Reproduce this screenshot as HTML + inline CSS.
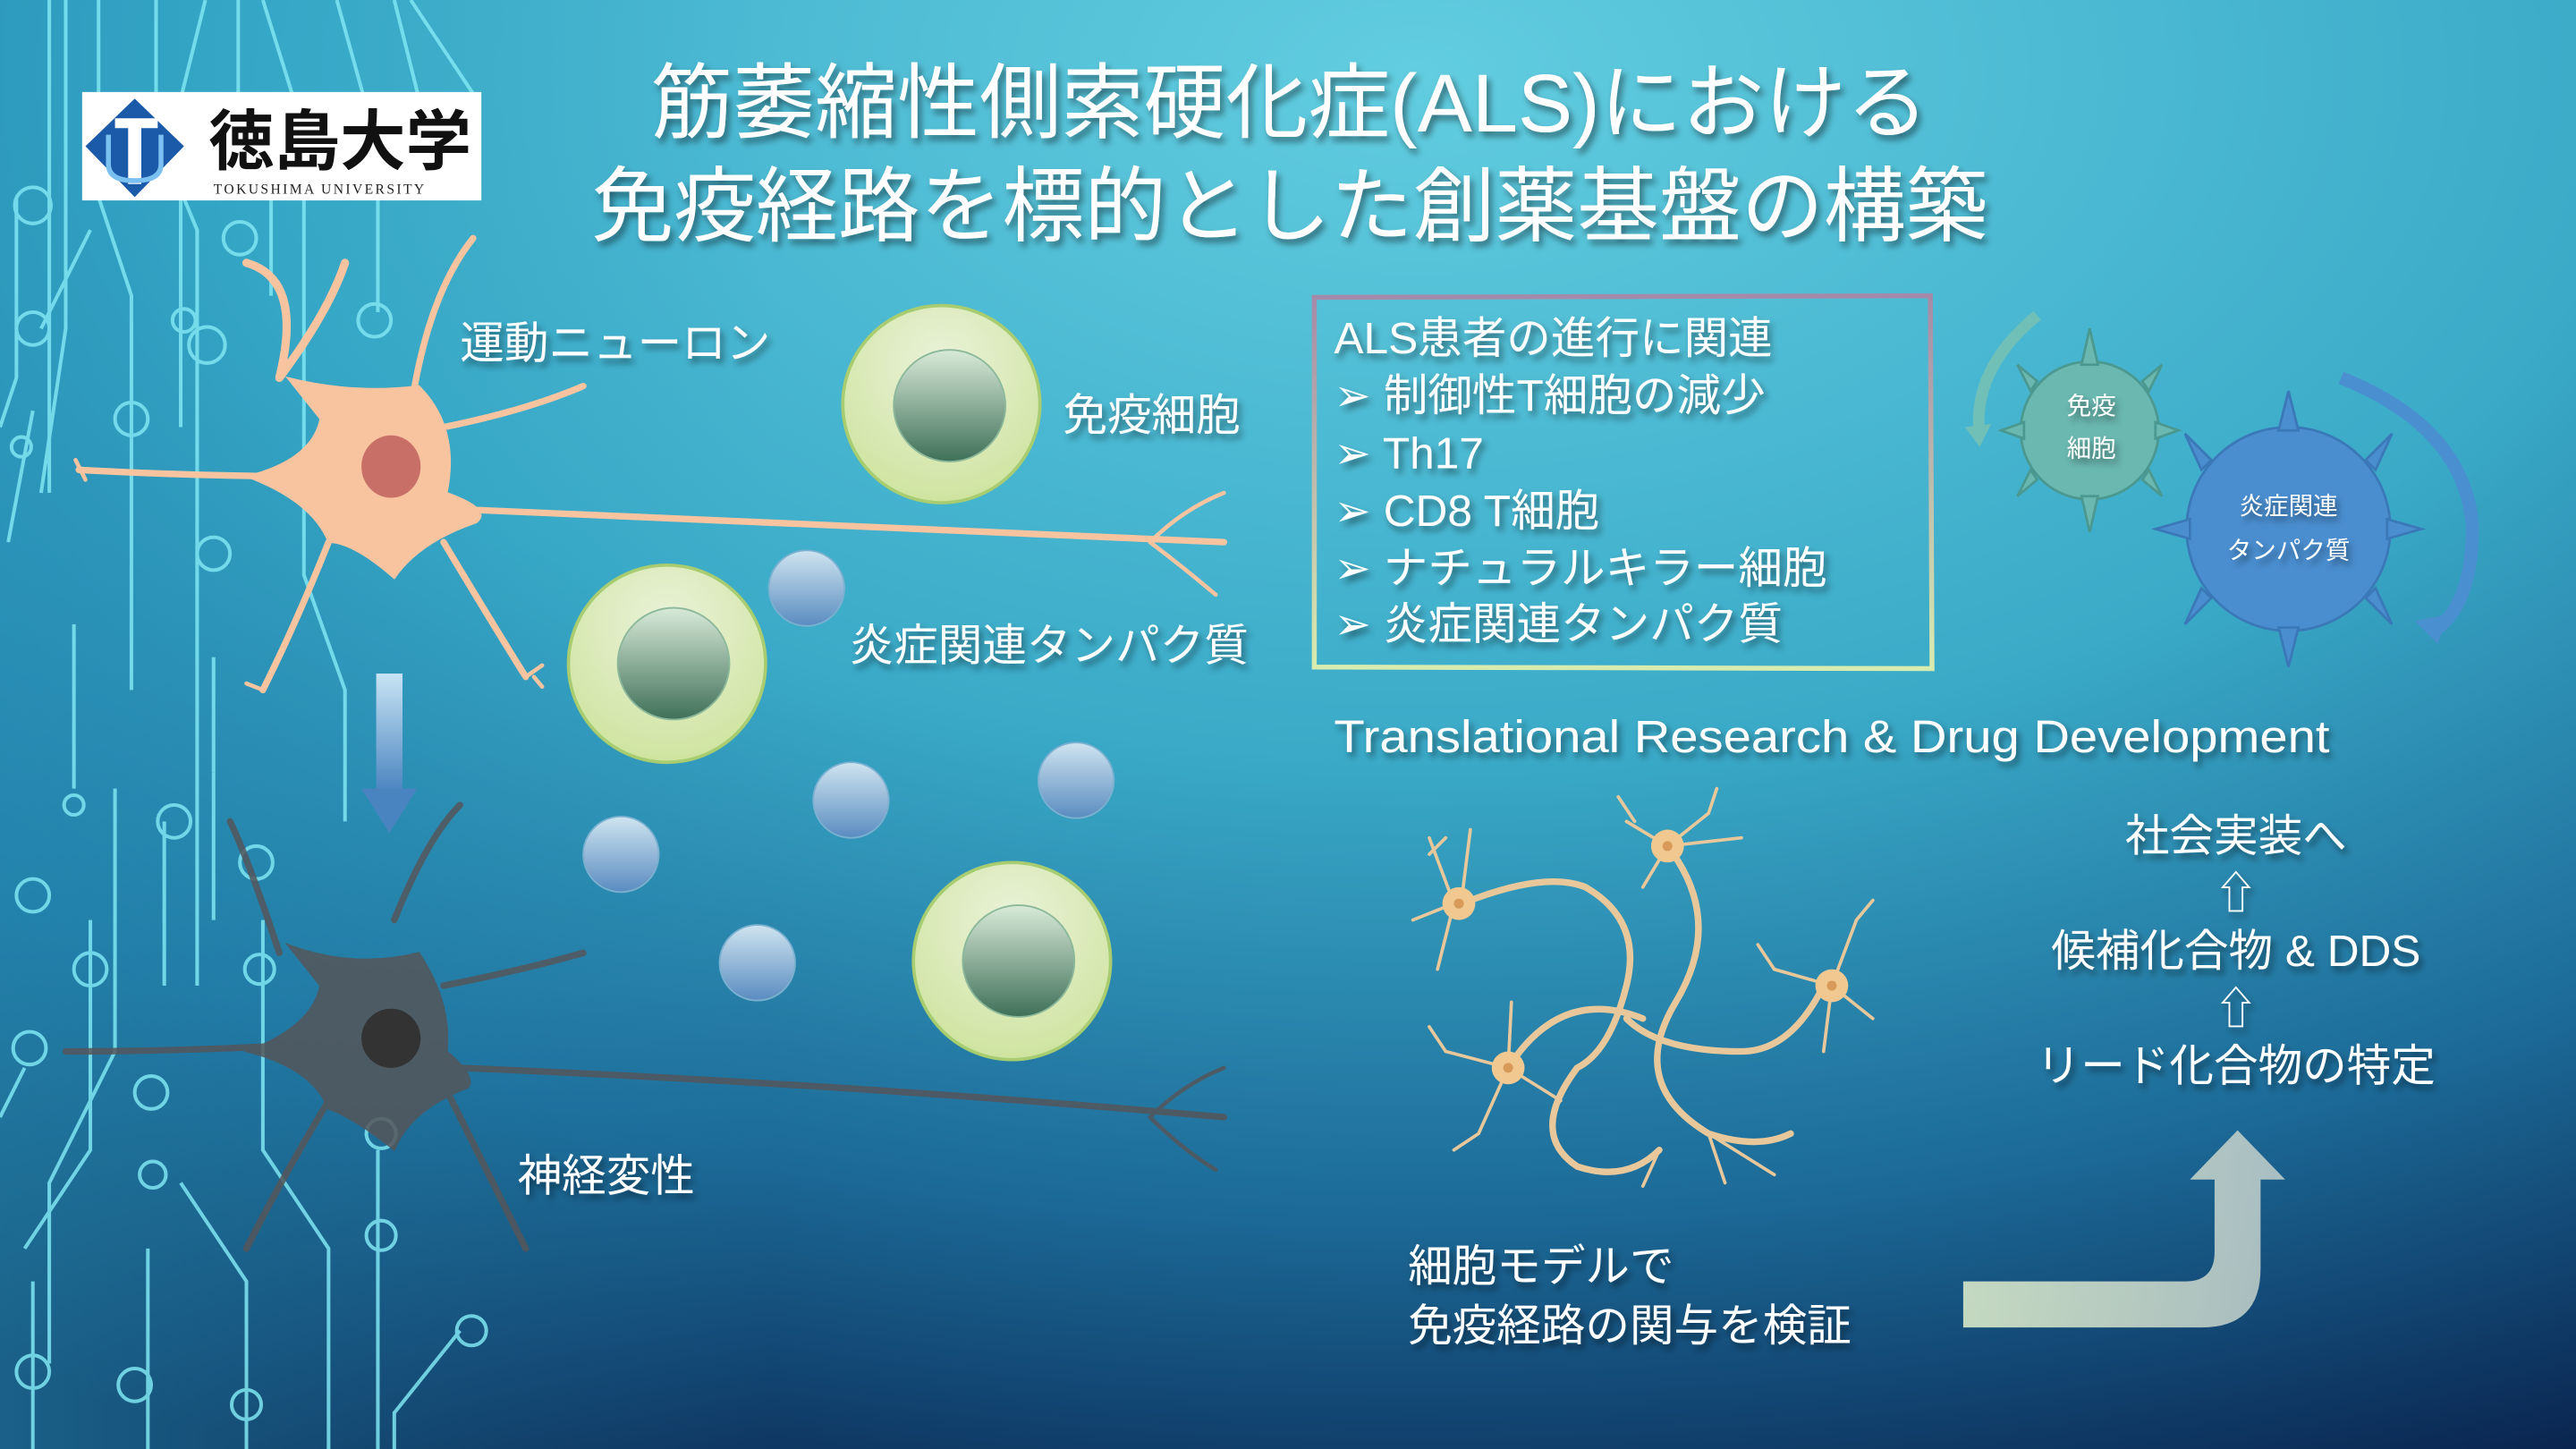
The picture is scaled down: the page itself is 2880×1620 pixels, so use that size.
<!DOCTYPE html>
<html><head><meta charset="utf-8"><style>
html,body{margin:0;padding:0;width:2880px;height:1620px;overflow:hidden;background:#2a8fb0}
svg{display:block}
text{font-family:"Liberation Sans","Noto Sans CJK JP",sans-serif;fill:#fff}
</style></head><body>
<svg width="2880" height="1620" viewBox="0 0 1568 882" xmlns="http://www.w3.org/2000/svg">
<defs>
<radialGradient id="bg" cx="0.55" cy="0.05" r="1.05">
<stop offset="0" stop-color="#62cde0"/><stop offset="0.45" stop-color="#3aaac8"/><stop offset="0.75" stop-color="#1c6a98"/><stop offset="1" stop-color="#0a2550"/>
</radialGradient>
<linearGradient id="bgl" x1="0" y1="0" x2="1" y2="0"><stop offset="0" stop-color="#2a9cc0" stop-opacity="0.5"/><stop offset="0.3" stop-color="#2a9cc0" stop-opacity="0"/></linearGradient>
<radialGradient id="cell" cx="0.5" cy="0.3" r="0.7"><stop offset="0" stop-color="#eaf2da"/><stop offset="1" stop-color="#cfe4a0"/></radialGradient>
<linearGradient id="nuc" x1="0" y1="0" x2="0" y2="1"><stop offset="0" stop-color="#d8ead8"/><stop offset="1" stop-color="#3f7058"/></linearGradient>
<linearGradient id="sph" x1="0" y1="0" x2="0" y2="1"><stop offset="0" stop-color="#cfe4f0"/><stop offset="1" stop-color="#5a8cc0"/></linearGradient>
<linearGradient id="darr" x1="0" y1="0" x2="0" y2="1"><stop offset="0" stop-color="#c8e4f4"/><stop offset="1" stop-color="#4a84c0"/></linearGradient>
<linearGradient id="barr" x1="0" y1="0" x2="1" y2="0"><stop offset="0" stop-color="#d8e8c8"/><stop offset="1" stop-color="#b8c8c8"/></linearGradient>
<linearGradient id="box" x1="0" y1="0" x2="0" y2="1"><stop offset="0" stop-color="#a48aa8"/><stop offset="1" stop-color="#d8ecb0"/></linearGradient>
<filter id="sh" x="-10%" y="-10%" width="130%" height="140%"><feDropShadow dx="2" dy="3" stdDeviation="2" flood-color="#000" flood-opacity="0.45"/></filter>
</defs>
<rect width="1568" height="882" fill="url(#bg)"/>
<rect width="1568" height="882" fill="url(#bgl)"/>
<g stroke="#7fe6f2" stroke-width="2.2" fill="none" opacity="0.85">
<path d="M30 0 V300"/><path d="M40 0 V200 L25 300"/><path d="M60 0 V120 L80 180 V420"/><path d="M95 0 V80 L120 140 V600"/>
<path d="M125 0 L110 60 V260"/><path d="M145 0 V60 L165 120 V180"/><path d="M160 0 L185 80 V350 L210 420 V500"/>
<path d="M205 0 L230 90 V190"/><path d="M240 0 L270 120"/><path d="M250 0 L290 60"/>
<path d="M10 120 V230 L0 260"/><path d="M55 140 L25 200"/><path d="M20 250 L5 330"/>
<path d="M70 480 V640 L30 720 V830"/><path d="M55 560 V700 L15 760"/><path d="M100 500 V600"/><path d="M130 470 V560"/>
<path d="M160 560 V700 L200 760 V882"/><path d="M110 720 L150 780 V882"/><path d="M90 760 V882"/><path d="M230 700 V882"/>
<path d="M280 810 L240 860 V882"/><path d="M20 780 V882"/><path d="M15 650 L0 680"/><path d="M45 380 V480"/><path d="M130 400 V470"/>
<circle cx="20" cy="125" r="11"/><circle cx="126" cy="210" r="11"/><circle cx="146" cy="145" r="10"/><circle cx="130" cy="337" r="10"/>
<circle cx="20" cy="200" r="10"/><circle cx="13" cy="272" r="6"/><circle cx="80" cy="255" r="10"/><circle cx="112" cy="195" r="7"/>
<circle cx="106" cy="500" r="10"/><circle cx="20" cy="545" r="10"/><circle cx="55" cy="590" r="10"/><circle cx="156" cy="525" r="10"/>
<circle cx="158" cy="590" r="9"/><circle cx="18" cy="638" r="10"/><circle cx="92" cy="665" r="10"/><circle cx="93" cy="715" r="8"/>
<circle cx="232" cy="690" r="9"/><circle cx="232" cy="752" r="9"/><circle cx="287" cy="810" r="9"/><circle cx="20" cy="835" r="10"/>
<circle cx="82" cy="843" r="10"/><circle cx="150" cy="855" r="9"/><circle cx="45" cy="490" r="6"/><circle cx="228" cy="195" r="10"/>
</g>
<rect x="50" y="56" width="243" height="66" fill="#fff"/>
<path d="M82 60 L112 89 L82 120 L52 89 Z" fill="#1a5aa8"/>
<path d="M70 72 H96 V78 H86 V112 H78 V78 H70 Z" fill="#fff"/>
<path d="M66 82 V100 Q66 110 82 110 Q98 110 98 100 V82" stroke="#7ac0f0" stroke-width="3" fill="none"/>
<text x="127" y="100" font-size="40" font-weight="bold" style="fill:#111">徳島大学</text>
<text x="130" y="118" font-size="8.5" letter-spacing="1.3" style="fill:#222;font-family:'Liberation Serif',serif">TOKUSHIMA UNIVERSITY</text>
<g filter="url(#sh)" font-size="50" text-anchor="middle">
<text x="785" y="80">筋萎縮性側索硬化症(ALS)における</text>
<text x="785" y="143">免疫経路を標的とした創薬基盤の構築</text>
</g>
<g fill="#f8c4a0" stroke="#f8c4a0" stroke-linecap="round">
<path d="M170 230 Q185 170 150 160 M170 230 Q200 190 210 160" stroke-width="5" fill="none"/>
<path d="M250 250 Q260 180 288 145 M 270 260 Q320 250 355 235 M 270 330 Q300 380 320 412 M 200 330 Q180 380 160 420 M200 290 Q120 290 48 286 M 280 310 Q500 320 745 330" stroke-width="4" fill="none"/>
<path d="M175 230 Q215 240 255 235 Q280 260 272 300 Q300 310 290 318 Q255 330 240 352 Q215 330 200 330 Q190 305 150 290 Q190 280 195 255 Z"/>
<path d="M700 330 Q720 310 745 300 M700 330 Q720 345 740 362 M46 280 L52 292 M320 412 L330 405 M325 412 L330 418 M160 420 L150 416" stroke-width="2.5" fill="none"/>
</g>
<ellipse cx="238" cy="284" rx="18" ry="19" fill="#c87068"/>
<g fill="#55565a" stroke="#55565a" opacity="0.85" stroke-linecap="round">
<path d="M170 580 Q150 520 140 500 M240 560 Q260 510 280 490 M270 600 Q320 590 355 580 M270 660 Q300 720 320 760 M200 670 Q170 720 150 760 M200 635 Q120 640 40 640 M280 650 Q520 660 745 680" stroke-width="4" fill="none"/>
<path d="M175 575 Q215 590 255 580 Q275 610 272 640 Q290 655 285 662 Q250 675 240 700 Q215 680 200 675 Q190 650 150 640 Q190 625 195 600 Z"/>
<path d="M700 680 Q720 660 745 650 M700 680 Q720 700 740 712" stroke-width="2.5" fill="none"/>
</g>
<ellipse cx="238" cy="632" rx="18" ry="18" fill="#333"/>
<rect x="229" y="410" width="16" height="72" fill="url(#darr)"/>
<path d="M220 480 H254 L237 507 Z" fill="#4a84c0"/>
<g stroke="#a8cc70" stroke-width="2">
<circle cx="573" cy="246" r="60" fill="url(#cell)"/><circle cx="406" cy="404" r="60" fill="url(#cell)"/><circle cx="616" cy="585" r="60" fill="url(#cell)"/>
</g>
<g stroke="#8cb89a" stroke-width="1">
<circle cx="578" cy="247" r="34" fill="url(#nuc)"/><circle cx="410" cy="404" r="34" fill="url(#nuc)"/><circle cx="620" cy="585" r="34" fill="url(#nuc)"/>
</g>
<g fill="url(#sph)" stroke="#7ab0d0">
<circle cx="491" cy="358" r="23"/><circle cx="518" cy="487" r="23"/><circle cx="655" cy="475" r="23"/><circle cx="378" cy="520" r="23"/><circle cx="461" cy="586" r="23"/>
</g>
<g filter="url(#sh)" font-size="27">
<text x="280" y="218">運動ニューロン</text>
<text x="647" y="262">免疫細胞</text>
<text x="517" y="402">炎症関連タンパク質</text>
<text x="315" y="725">神経変性</text>
</g>
<path d="M800 181 L1175 180 L1176 407 L800 406 Z" fill="none" stroke="url(#box)" stroke-width="3"/>
<g filter="url(#sh)" font-size="27">
<text x="812" y="215">ALS患者の進行に関連</text>
<text x="812" y="250">➢ 制御性T細胞の減少</text>
<text x="812" y="285">➢ Th17</text>
<text x="812" y="320">➢ CD8 T細胞</text>
<text x="812" y="355">➢ ナチュラルキラー細胞</text>
<text x="812" y="389">➢ 炎症関連タンパク質</text>
</g>
<path d="M1240 192 Q1200 225 1205 265" stroke="#70c0b8" stroke-width="7" fill="none"/>
<path d="M1196 260 L1205 272 L1212 258 Z" fill="#70c0b8"/>
<path d="M1425 230 Q1500 260 1505 320 Q1505 370 1480 385" stroke="#4a90d0" stroke-width="8" fill="none"/>
<path d="M1470 378 L1484 392 L1490 374 Z" fill="#4a90d0"/>
<g fill="#6ab8b0" stroke="#4a9890" stroke-width="1.5">
<circle cx="1272" cy="262" r="42"/>
<path d="M1267 222 L1272 200 L1277 222 Z M1267 302 L1272 324 L1277 302 Z M1232 257 L1218 262 L1232 267 Z M1312 257 L1326 262 L1312 267 Z M1240 232 L1228 222 L1236 238 Z M1304 232 L1316 222 L1308 238 Z M1240 292 L1228 302 L1236 286 Z M1304 292 L1316 302 L1308 286 Z"/>
</g>
<g fill="#4a8ed0" stroke="#3a78b8" stroke-width="1.5">
<circle cx="1393" cy="322" r="62"/>
<path d="M1387 262 L1393 238 L1399 262 Z M1387 382 L1393 406 L1399 382 Z M1333 316 L1312 322 L1333 328 Z M1453 316 L1474 322 L1453 328 Z M1346 280 L1330 264 L1340 286 Z M1440 280 L1456 264 L1446 286 Z M1346 364 L1330 380 L1340 358 Z M1440 364 L1456 380 L1446 358 Z"/>
</g>
<g font-size="15" text-anchor="middle" filter="url(#sh)">
<text x="1273" y="252">免疫</text><text x="1273" y="278">細胞</text>
<text x="1393" y="313">炎症関連</text><text x="1393" y="340">タンパク質</text>
</g>
<text x="812" y="458" font-size="28" textLength="606" lengthAdjust="spacingAndGlyphs" filter="url(#sh)">Translational Research &amp; Drug Development</text>
<g stroke="#e8c89a" stroke-width="4" fill="none" stroke-linecap="round">
<path d="M890 550 Q940 530 965 540 Q1000 560 990 600 Q980 640 960 650 Q930 690 960 710 Q990 720 1010 700"/>
<path d="M1015 515 Q1050 560 1020 610 Q990 660 1040 690 Q1070 700 1090 690"/>
<path d="M1110 600 Q1090 640 1060 640 Q1010 640 990 620"/>
<path d="M918 650 Q950 600 1000 620"/>
</g>
<g stroke="#e8c89a" stroke-width="2" fill="none" stroke-linecap="round">
<path d="M885 550 L870 510 M885 550 L860 560 M885 550 L875 590 M890 545 L895 505 M870 520 L880 510"/>
<path d="M1015 515 L990 500 M1015 515 L1040 495 M1015 515 L1060 510 M1015 515 L1000 540 M995 500 L985 485 M1040 495 L1045 480"/>
<path d="M1115 600 L1080 590 M1115 600 L1130 560 M1115 600 L1140 620 M1115 600 L1110 640 M1130 560 L1140 548 M1080 590 L1070 575"/>
<path d="M918 650 L880 640 M918 650 L900 690 M918 650 L920 610 M918 650 L950 670 M880 640 L870 625 M900 690 L885 700"/>
<path d="M1040 690 L1050 720 M1040 690 L1080 715 M1010 700 L1000 722"/>
</g>
<g fill="#f0c890">
<circle cx="888" cy="550" r="10"/><circle cx="1015" cy="515" r="10"/><circle cx="1115" cy="600" r="10"/><circle cx="918" cy="650" r="10"/>
</g>
<g fill="#d89a58"><circle cx="888" cy="550" r="3"/><circle cx="1015" cy="515" r="3"/><circle cx="1115" cy="600" r="3"/><circle cx="918" cy="650" r="3"/></g>
<g filter="url(#sh)" font-size="27" text-anchor="middle">
<text x="1361" y="518">社会実装へ</text>
<text x="1361" y="553">⇧</text>
<text x="1361" y="588">候補化合物 &amp; DDS</text>
<text x="1361" y="623">⇧</text>
<text x="1361" y="658">リード化合物の特定</text>
</g>
<path d="M1195 780 H1330 Q1348 780 1348 762 V718 H1333 L1362 688 L1391 718 H1376 V772 Q1376 808 1340 808 H1195 Z" fill="url(#barr)" opacity="0.9"/>
<g filter="url(#sh)" font-size="27">
<text x="857" y="780">細胞モデルで</text>
<text x="857" y="816">免疫経路の関与を検証</text>
</g>
</svg>
</body></html>
